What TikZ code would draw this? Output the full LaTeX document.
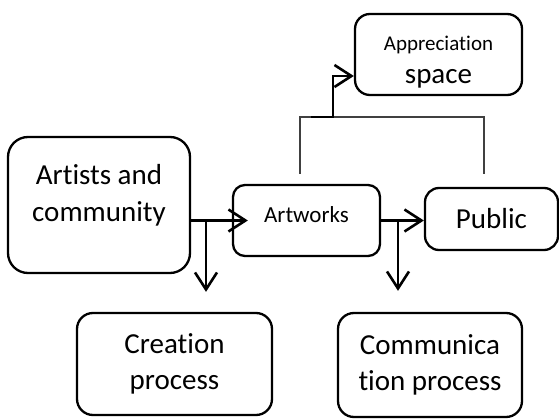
\documentclass[tikz,border=0pt]{standalone}
\usepackage{fontspec}
\setmainfont{Carlito}[Ligatures=NoCommon]
\usepackage{tikz}
\usetikzlibrary{arrows.meta,positioning,calc}
\tikzstyle{block}=[draw,line width=2.3pt,rounded corners=14pt,align=center,inner sep=0pt]
\tikzstyle{flow}=[line width=2.6pt,-{Straight Barb[length=17pt,width=22pt]}]
\tikzstyle{link}=[line width=1.2pt,black!75]

\begin{document}
\begin{tikzpicture}[x=1pt,y=-1pt,font=\fontsize{29}{36}\selectfont]
\useasboundingbox (0,0) rectangle (559,419);
\node [block,minimum width=182pt,minimum height=136pt,rounded corners=20pt,text depth=24pt,font=\fontsize{29}{37}\selectfont] (artists) at (99,205) {Artists and\\community};
\node [block,minimum width=147pt,minimum height=71pt,rounded corners=12pt,text depth=11pt,font=\fontsize{23}{28}\selectfont] (artworks) at (306.5,220.5) {Artworks};
\node [block,minimum width=133pt,minimum height=62pt] (public) at (491.5,219) {Public};
\node [block,minimum width=167pt,minimum height=81pt,rounded corners=15pt,text height=63pt,font=\fontsize{29}{33}\selectfont] (appr) at (438.5,54.5) {{\fontsize{21}{25}\selectfont Appreciation}\\space};
\node [block,minimum width=195pt,minimum height=102pt,rounded corners=16pt] (creation) at (174.5,364) {Creation\\process};
\node [block,minimum width=184pt,minimum height=104pt,rounded corners=16pt] (comm) at (430,365) {Communica\\tion process};

\coordinate (j1) at (206,221);
\coordinate (j2) at (398,221);
\coordinate (t1) at (300,117);
\coordinate (t2) at (484,117);
\coordinate (e1) at (311,117);
\coordinate (e2) at (333,76);

\draw [flow] (artists.east |- artworks.west) -- ([xshift=16pt]artworks.west);
\draw [flow] (artworks.east) -- (public.west |- artworks.east);
\draw [flow,shorten >=20pt] (j1) -- (j1 |- creation.north);
\draw [flow,shorten >=21pt] (j2) -- (j2 |- comm.north);
\draw [link] ($(artworks.north -| t1)+(0,-10)$) -- (t1) -- (t2) -- ($(public.north -| t2)+(0,-13)$);
\draw [flow] (e1) -| (e2) -- (appr.west |- e2);
\end{tikzpicture}
\end{document}
